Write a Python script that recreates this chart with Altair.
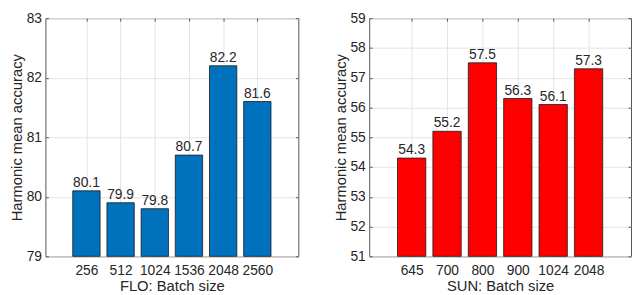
import altair as alt
import pandas as pd

flo_sizes = ["256", "512", "1024", "1536", "2048", "2560"]
flo_acc = [80.1, 79.9, 79.8, 80.7, 82.2, 81.6]
sun_sizes = ["645", "700", "800", "900", "1024", "2048"]
sun_acc = [54.3, 55.2, 57.5, 56.3, 56.1, 57.3]

FONT = "Liberation Sans"
TXT = "#262626"
AX = "#555555"


def tick_axis(values, orient):
    return alt.Axis(
        values=values, orient=orient, offset=-3, ticks=True, tickSize=3,
        tickColor=AX, tickWidth=1, labels=False, grid=False, domain=False, title=None,
    )


def panel(sizes, acc, color, ymin, ymax, xtitle, width):
    idx = list(range(1, len(sizes) + 1))
    yvals = list(range(ymin, ymax + 1))
    df = pd.DataFrame({"idx": idx, "size": sizes, "acc": acc})
    label_expr = "[" + ",".join(f"'{s}'" for s in sizes) + "][datum.value-1]"
    xscale = alt.Scale(domain=[-0.2, 7.2], nice=False, zero=False)
    yscale = alt.Scale(domain=[ymin, ymax], nice=False, zero=False)
    xaxis = alt.Axis(values=idx, labelExpr=label_expr, title=xtitle, grid=True)
    yaxis = alt.Axis(values=yvals, title="Harmonic mean accuracy", grid=True)
    base = alt.Chart(df).transform_calculate(
        x0="datum.idx - 0.4", x1="datum.idx + 0.4", base=str(ymin)
    )
    bars = base.mark_bar(color=color, stroke="#1a1a1a", strokeWidth=0.8).encode(
        x=alt.X("x0:Q", scale=xscale, axis=xaxis),
        x2="x1:Q",
        y=alt.Y("acc:Q", scale=yscale, axis=yaxis),
        y2="base:Q",
    )
    text = base.mark_text(
        baseline="alphabetic", dy=-4, fontSize=14, color=TXT, font=FONT
    ).encode(
        x=alt.X("idx:Q", scale=xscale, axis=tick_axis(idx, "top")),
        y=alt.Y("acc:Q", scale=yscale, axis=tick_axis(yvals, "right")),
        text=alt.Text("acc:Q", format=".1f"),
    )
    ticks = base.mark_point(opacity=0).encode(
        x=alt.X("idx:Q", scale=xscale, axis=tick_axis(idx, "bottom")),
        y=alt.Y("acc:Q", scale=yscale, axis=tick_axis(yvals, "left")),
    )
    return (
        alt.layer(bars, ticks, text)
        .resolve_axis(x="independent", y="independent")
        .properties(width=width, height=242)
    )


left = panel(flo_sizes, flo_acc, "#0072BD", 79, 83, "FLO: Batch size", 257)
right = panel(sun_sizes, sun_acc, "#FF0000", 51, 59, "SUN: Batch size", 266)

chart = (
    alt.hconcat(left, right, spacing=33)
    .properties(padding=0)
    .configure_view(stroke=AX, strokeWidth=1)
    .configure_axis(
        domain=False,
        ticks=False,
        gridColor="#e3e3e3",
        gridWidth=1,
        labelFont=FONT,
        labelFontSize=14,
        labelColor=TXT,
        titleFont=FONT,
        titleFontSize=15,
        titleFontWeight="normal",
        titleColor=TXT,
    )
    .configure_axisX(labelPadding=7, titlePadding=2)
    .configure_axisY(labelPadding=4, titlePadding=2)
)

chart.save("out.html", embed_options={"renderer": "svg", "actions": False})
